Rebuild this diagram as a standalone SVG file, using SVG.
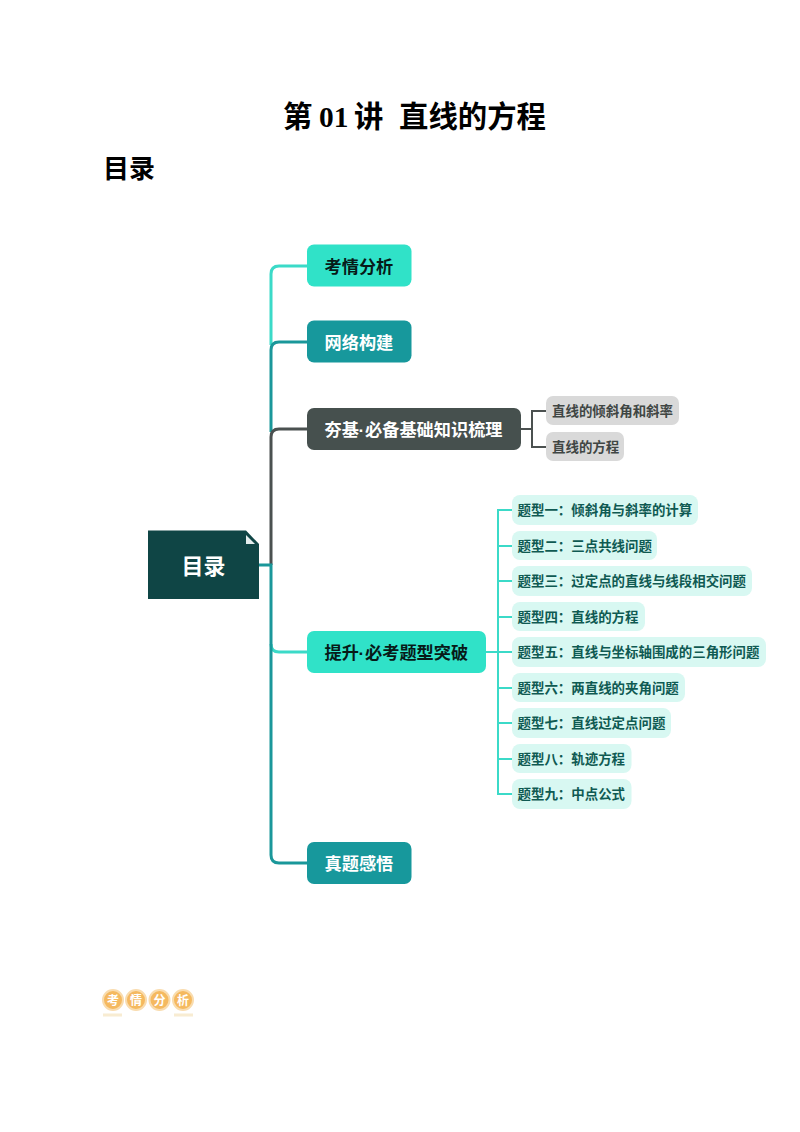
<svg xmlns="http://www.w3.org/2000/svg" width="800" height="1132" viewBox="0 0 800 1132">
<style>
text{font-family:"Noto Sans CJK SC","Noto Sans",sans-serif;font-weight:700}
.title{font-family:"Liberation Serif","Noto Sans CJK SC",serif;font-size:29.4px;fill:#000}
.main{font-size:17.2px}
.w{fill:#fff}.k{fill:#071a18}
.dot{font-family:"Liberation Sans",sans-serif}
.sub{font-size:13.45px;fill:#0f5a52}
.gr{font-size:13.45px;fill:#404644}
.tb{fill:#d8f8f2}.gb{fill:#d9d9d9}
.badge{font-size:12px;fill:#fff;text-anchor:middle}
.c{fill:none;stroke-width:3}
.s{fill:none;stroke-width:2}
.lt{stroke:#3bdac8}.dk{stroke:#1a979a}.gy{stroke:#4b5150}
</style>
<rect width="800" height="1132" fill="#fff"/>
<text class="title" y="127"><tspan x="283">第</tspan><tspan x="319">01</tspan><tspan x="354">讲</tspan><tspan x="399">直线的方程</tspan></text>
<text x="103" y="178" style="font-size:26px;fill:#000">目录</text>
<g id="connectors">
<path class="c lt" d="M271 345V274Q271 266 279 266H307"/>
<path class="c dk" d="M271 432V350Q271 342 279 342H307"/>
<path class="c gy" d="M271 565V437Q271 429 279 429H307"/>
<path class="c lt" d="M271 644Q271 652 279 652H307"/>
<path class="c dk" d="M259 565H271V855Q271 863 279 863H307"/>
<path class="s gy" d="M521 429H532M546 411H532V447H546"/>
<path class="s lt" d="M486 652H498M512 510H498V794H512M498 546H512M498 581H512M498 617H512M498 652H512M498 688H512M498 723H512M498 759H512"/>
</g>
<g id="root"><path d="M148 530.500H246L259 544V599H148Z" fill="#0f4545"/><path d="M246 535L255 544H246Z" fill="#e4eeee"/><text x="181.500" y="573.500" class="w" style="font-size:22px">目录</text></g>
<g id="n1"><rect x="307" y="244.500" width="104.500" height="42" rx="7" fill="#30e2c8"/><text class="main k" x="324.500" y="272.500">考情分析</text></g>
<g id="n2"><rect x="307" y="320.500" width="104.500" height="42" rx="7" fill="#17989c"/><text class="main w" x="324.500" y="348.500">网络构建</text></g>
<g id="n3"><rect x="307" y="408" width="214" height="42" rx="7" fill="#46504e"/><text class="main w" y="436"><tspan x="324.500">夯基</tspan><tspan class="dot" x="358.500">·</tspan><tspan x="365">必备基础知识梳理</tspan></text></g>
<g id="n4"><rect x="307" y="631" width="179" height="42" rx="7" fill="#30e2c8"/><text class="main k" y="659"><tspan x="324.500">提升</tspan><tspan class="dot" x="358.500">·</tspan><tspan x="365">必考题型突破</tspan></text></g>
<g id="n5"><rect x="307" y="842" width="104.500" height="42" rx="7" fill="#17989c"/><text class="main w" x="324.500" y="870">真题感悟</text></g>
<g id="g1"><rect class="gb" x="546" y="396" width="133" height="29" rx="7"/><text class="gr" x="552" y="416">直线的倾斜角和斜率</text></g>
<g id="g2"><rect class="gb" x="546" y="432" width="78" height="29" rx="7"/><text class="gr" x="552" y="452">直线的方程</text></g>
<g id="t1"><rect class="tb" x="512" y="495" width="186" height="30" rx="8"/><text class="sub" x="517.500" y="515">题型一：倾斜角与斜率的计算</text></g>
<g id="t2"><rect class="tb" x="512" y="531" width="145" height="29" rx="8"/><text class="sub" x="517.500" y="551">题型二：三点共线问题</text></g>
<g id="t3"><rect class="tb" x="512" y="566" width="240" height="30" rx="8"/><text class="sub" x="517.500" y="586">题型三：过定点的直线与线段相交问题</text></g>
<g id="t4"><rect class="tb" x="512" y="602" width="133" height="29" rx="8"/><text class="sub" x="517.500" y="622">题型四：直线的方程</text></g>
<g id="t5"><rect class="tb" x="512" y="637" width="254" height="30" rx="8"/><text class="sub" x="517.500" y="657">题型五：直线与坐标轴围成的三角形问题</text></g>
<g id="t6"><rect class="tb" x="512" y="673" width="173" height="29" rx="8"/><text class="sub" x="517.500" y="693">题型六：两直线的夹角问题</text></g>
<g id="t7"><rect class="tb" x="512" y="708" width="159" height="30" rx="8"/><text class="sub" x="517.500" y="728">题型七：直线过定点问题</text></g>
<g id="t8"><rect class="tb" x="512" y="744" width="119.500" height="29" rx="8"/><text class="sub" x="517.500" y="764">题型八：轨迹方程</text></g>
<g id="t9"><rect class="tb" x="512" y="779" width="119.500" height="30" rx="8"/><text class="sub" x="517.500" y="799">题型九：中点公式</text></g>
<g id="badge">
<rect x="103" y="1013.500" width="19" height="3" fill="#f8ecd2"/><rect x="174" y="1013.500" width="19" height="3" fill="#f8ecd2"/>
<g fill="#f5b95f" stroke="#f9dcae" stroke-width="2"><circle cx="113" cy="1000" r="10"/><circle cx="136" cy="1000" r="10"/><circle cx="159.500" cy="1000" r="10"/><circle cx="183" cy="1000" r="10"/></g>
<text class="badge" x="113" y="1004.500">考</text><text class="badge" x="136" y="1004.500">情</text><text class="badge" x="159.500" y="1004.500">分</text><text class="badge" x="183" y="1004.500">析</text>
</g>
</svg>
